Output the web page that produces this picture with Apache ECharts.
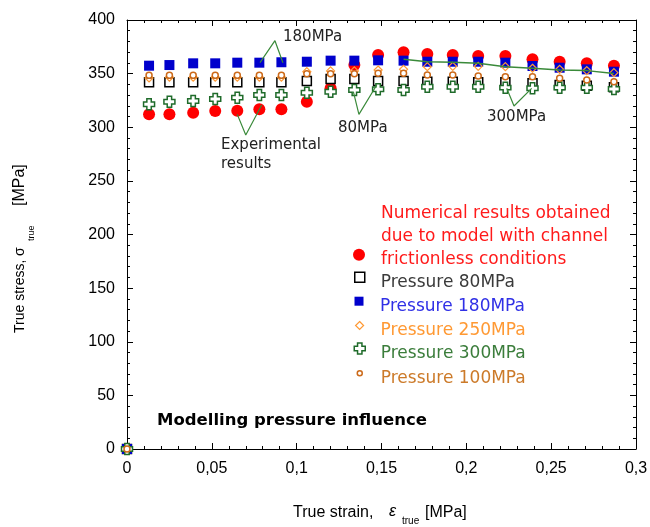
<!DOCTYPE html>
<html><head><meta charset="utf-8">
<script src="https://cdn.jsdelivr.net/npm/echarts@6/dist/echarts.min.js"></script>
<style>html,body{margin:0;padding:0;background:#fff}#c{width:650px;height:527px}</style>
</head><body><div id="c"></div>
<script>
// ---- data ----
const strain    = [0, 0.013, 0.025, 0.039, 0.052, 0.065, 0.078, 0.091, 0.106, 0.120, 0.134, 0.148, 0.163, 0.177, 0.192, 0.207, 0.223, 0.239, 0.255, 0.271, 0.287];
const numerical = [0, 312.1, 312.1, 313.6, 315.2, 315.4, 316.7, 316.7, 323.8, 336.3, 358.0, 367.4, 369.9, 368.3, 367.4, 366.4, 366.4, 363.4, 361.1, 359.6, 357.4];
const p80       = [0, 341.9, 341.9, 341.9, 341.9, 341.9, 341.9, 341.9, 343.1, 345.0, 345.0, 343.1, 343.1, 342.5, 342.5, 341.9, 341.9, 341.0, 339.4, 338.7, 337.3];
const p180      = [0, 357.4, 358.0, 359.6, 359.6, 360.2, 360.2, 360.6, 361.1, 362.1, 362.1, 362.4, 362.1, 361.1, 361.1, 361.1, 360.2, 357.1, 355.5, 354.0, 351.8];
const p250      = [0, 346.0, 346.6, 346.6, 346.6, 346.6, 346.6, 346.6, 351.8, 352.5, 352.5, 353.4, 354.0, 356.5, 356.8, 356.8, 356.5, 355.0, 354.0, 352.8, 350.9];
const p300      = [0, 321.4, 323.8, 324.5, 326.3, 327.6, 330.1, 330.1, 332.2, 333.1, 334.7, 335.5, 334.7, 337.8, 337.8, 337.8, 336.9, 336.3, 336.9, 336.9, 335.7];
const p100      = [0, 348.5, 348.5, 348.5, 348.5, 348.5, 348.5, 348.5, 350.0, 350.0, 350.0, 350.3, 350.3, 348.7, 348.7, 347.8, 347.2, 347.2, 345.6, 344.0, 342.5];
// green trend line
const trendStrain = [0.163, 0.177, 0.192, 0.207, 0.223, 0.239, 0.255, 0.271, 0.287];
const trendStress = [363.4, 361.1, 360.6, 359.6, 356.5, 355.0, 353.4, 352.8, 350.1];
// annotation callouts (strain, stress)
const callout180 = [[0.0784, 360.2], [0.0872, 380.7], [0.0919, 360.2]];
const calloutExp = [[0.0650, 312.0], [0.0700, 292.8], [0.0794, 320.7]];
const callout80  = [[0.1334, 333.2], [0.1367, 312.0], [0.1472, 339.4]];
const callout300 = [[0.2238, 336.3], [0.2281, 319.8], [0.2385, 336.3]];
// axis ticks
const xTicks = {min: 0, max: 0.3, interval: 0.05};
const yTicks = {min: 0, max: 400, interval: 50};
// legend text lines
const numLines = ['Numerical results obtained', 'due to model with channel', 'frictionless conditions'];

const NUM = numLines.join(' ');
const SANS = '"Liberation Sans", Arial, sans-serif';
const DJ = '"DejaVu Sans", sans-serif';
const CROSS = 'path://M3,0 L7,0 L7,3 L10,3 L10,7 L7,7 L7,10 L3,10 L3,7 L0,7 L0,3 L3,3 Z';
const GREEN = '#3a8a3a';

function pairs(xs, ys) { return xs.map((x, i) => [x, ys[i]]); }

function axisCommon(showLabel, fmt) {
  return {
    axisLine: {show: true, onZero: false, lineStyle: {color: '#000', width: 1}},
    axisTick: {show: true, inside: true, length: 6, lineStyle: {color: '#000', width: 1}},
    minorTick: {show: true, splitNumber: 5, length: 3, lineStyle: {color: '#000', width: 1}},
    splitLine: {show: false}, minorSplitLine: {show: false},
    axisLabel: {show: showLabel, margin: 12, fontSize: 16, color: '#000', fontFamily: SANS, formatter: fmt}
  };
}
const xFmt = v => String(+(+v).toFixed(3)).replace('.', ',');
const yFmt = v => String(Math.round(v));

function legendItem(name, cx, cy, size, icon, itemStyle, color, padLeft) {
  return {
    show: true, selectedMode: false, orient: 'vertical', padding: 0,
    left: cx - size / 2, top: cy - 10,
    itemWidth: size, itemHeight: size,
    data: [{name: name, icon: icon}],
    itemStyle: itemStyle,
    formatter: n => '{s| }\n{t|' + n + '}',
    textStyle: {
      color: color, fontSize: 17, fontFamily: DJ, padding: [0, 0, 0, padLeft],
      rich: {
        s: {fontSize: 1, lineHeight: 10},
        t: {color: color, fontSize: 17, fontFamily: DJ, lineHeight: 20}
      }
    }
  };
}

function txt(text, x, y, size, opts) {
  opts = opts || {};
  return {
    type: 'text', x: x, y: y, rotation: opts.rotation || 0, silent: true,
    style: {
      text: text, fontSize: size, fontFamily: opts.family || SANS,
      fontWeight: opts.weight || 'normal', fontStyle: opts.style || 'normal',
      fill: opts.color || '#000',
      align: 'left', verticalAlign: 'middle', textAlign: 'left', textVerticalAlign: 'middle'
    }
  };
}

const chart = echarts.init(document.getElementById('c'), null, {renderer: 'canvas'});
const option = {
  animation: false,
  backgroundColor: '#fff',
  textStyle: {fontFamily: SANS},
  grid: {left: 127, top: 20, width: 509, height: 429, containLabel: false, outerBoundsMode: 'none'},
  xAxis: [
    Object.assign({type: 'value', position: 'bottom'}, xTicks, axisCommon(true, xFmt)),
    Object.assign({type: 'value', position: 'top'}, xTicks, axisCommon(false, xFmt))
  ],
  yAxis: [
    Object.assign({type: 'value', position: 'left'}, yTicks, axisCommon(true, yFmt)),
    Object.assign({type: 'value', position: 'right'}, yTicks, axisCommon(false, yFmt))
  ],
  legend: [
    {
      show: true, selectedMode: false, orient: 'vertical', padding: 0,
      left: 353, top: 252.7 - 47.5, itemWidth: 12, itemHeight: 12,
      data: [{name: NUM, icon: 'circle'}],
      itemStyle: {color: '#ff0000', borderWidth: 0},
      formatter: () => numLines.map(l => '{r|' + l + '}').join('\n') + '\n{s| }',
      textStyle: {
        color: '#ff1a1a', fontSize: 17, fontFamily: DJ, padding: [0, 0, 0, 11],
        rich: {
          r: {color: '#ff1a1a', fontSize: 17, fontFamily: DJ, lineHeight: 23},
          s: {fontSize: 1, lineHeight: 36}
        }
      }
    },
    legendItem('Pressure 80MPa', 359, 276.7, 10, 'rect', {color: '#fff', borderColor: '#000', borderWidth: 1.5, opacity: 1}, '#3a3a3a', 11),
    legendItem('Pressure 180MPa', 359, 300.7, 9, 'rect', {color: '#0000cc', borderWidth: 0, opacity: 1}, '#3030e6', 11.5),
    legendItem('Pressure 250MPa', 359, 325, 8, 'diamond', {color: '#fff', borderColor: '#ff9933', borderWidth: 1.2, opacity: 1}, '#ff9933', 12),
    legendItem('Pressure 300MPa', 359, 348, 11, CROSS, {color: '#fff', borderColor: '#1f6b2a', borderWidth: 1.5, opacity: 1}, '#3b7d3b', 10.5),
    legendItem('Pressure 100MPa', 359, 372.7, 5, 'circle', {color: '#fff', borderColor: '#cc6a1a', borderWidth: 1.5, opacity: 1}, '#cc7a29', 13.5)
  ],
  series: [
    {name: NUM, type: 'scatter', data: pairs(strain, numerical), symbol: 'circle', symbolSize: 12,
     itemStyle: {color: '#ff0000', opacity: 1}},
    {name: 'Pressure 80MPa', type: 'scatter', data: pairs(strain, p80), symbol: 'rect', symbolSize: 9,
     itemStyle: {color: '#fff', borderColor: '#000', borderWidth: 1.5, opacity: 1}},
    {name: 'Pressure 180MPa', type: 'scatter', data: pairs(strain, p180), symbol: 'rect', symbolSize: 10,
     itemStyle: {color: '#0000cc', opacity: 1}},
    {name: 'trend', type: 'line', data: pairs(trendStrain, trendStress), symbol: 'none', silent: true,
     lineStyle: {color: GREEN, width: 1.5}},
    {name: 'Pressure 250MPa', type: 'scatter', data: pairs(strain, p250), symbol: 'diamond', symbolSize: 8,
     itemStyle: {color: 'rgba(255,255,255,0)', borderColor: '#ff9933', borderWidth: 1.2, opacity: 1}},
    {name: 'Pressure 300MPa', type: 'scatter', data: pairs(strain, p300), symbol: CROSS, symbolSize: 11,
     itemStyle: {color: '#fff', borderColor: '#1f6b2a', borderWidth: 1.5, opacity: 1}},
    {name: 'Pressure 100MPa', type: 'scatter', data: pairs(strain, p100), symbol: 'circle', symbolSize: 6,
     itemStyle: {color: '#fff', borderColor: '#cc6a1a', borderWidth: 1.5, opacity: 1}},
    ...[callout180, calloutExp, callout80, callout300].map((d, i) => ({
      name: 'callout' + i, type: 'line', data: d, symbol: 'none', silent: true,
      lineStyle: {color: GREEN, width: 1.2}
    }))
  ],
  graphic: [
    txt('180MPa', 283, 37.5, 15, {family: DJ, color: '#222'}),
    txt('Experimental', 221, 145, 15, {family: DJ, color: '#222'}),
    txt('results', 221, 164, 15, {family: DJ, color: '#222'}),
    txt('80MPa', 338, 128, 15, {family: DJ, color: '#222'}),
    txt('300MPa', 487, 117.5, 15, {family: DJ, color: '#222'}),
    txt('Modelling pressure influence', 157, 421, 16.5, {family: DJ, weight: 'bold', color: '#000'}),
    // x axis title
    txt('True strain,', 293, 513, 16),
    txt('\u03b5', 389, 512, 16, {style: 'italic'}),
    txt('true', 402, 521, 10),
    txt('[MPa]', 425, 513, 16),
    // y axis title (rotated)
    txt('True stress,', 20, 333, 14, {rotation: Math.PI / 2}),
    txt('\u03c3', 20, 256, 14, {rotation: Math.PI / 2}),
    txt('true', 32, 241, 9, {rotation: Math.PI / 2}),
    txt('[MPa]', 20, 206, 16, {rotation: Math.PI / 2})
  ]
};
chart.setOption(option);
</script>
</body></html>
